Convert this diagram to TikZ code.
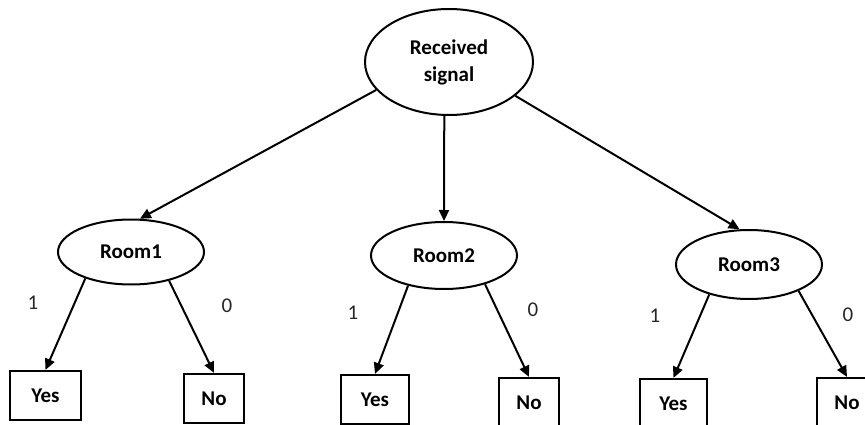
\documentclass[tikz,border=0pt]{standalone}
\usepackage{fontspec}
\setmainfont{Carlito}
\usetikzlibrary{arrows.meta}
\usetikzlibrary{shapes.geometric}

\tikzset{
    oval/.style={draw, ellipse, line width=2pt, inner sep=0pt,
        font=\fontsize{21}{27}\selectfont\bfseries, align=center},
    leaf/.style={draw, rectangle, line width=2.2pt, inner sep=0pt,
        minimum height=49pt, font=\fontsize{21}{25}\selectfont\bfseries},
    branch/.style={font=\fontsize{21}{25}\selectfont, text=black!85},
    edge/.style={line width=2pt, -{Triangle[length=11pt,width=10pt]}}
}

\begin{document}
\begin{tikzpicture}[x=1pt, y=-1pt]
    \useasboundingbox (0, 0) rectangle (865, 425);
    % root
    \node [oval, minimum width=168pt, minimum height=106pt] (sig) at (449, 62) {Received\\signal};
    % rooms
    \node [oval, minimum width=146pt, minimum height=65pt] (room1) at (131, 252) {Room1};
    \node [oval, minimum width=146pt, minimum height=67pt] (room2) at (444, 255.5) {Room2};
    \node [oval, minimum width=146pt, minimum height=69pt] (room3) at (749, 264.5) {Room3};
    \draw [edge] (sig.201) to (room1.75);
    \draw [edge] (sig.265) to (room2.north);
    \draw [edge] (sig.333) to (room3.105);
    % answers
    \node [leaf, minimum width=71pt] (yes1) at (45.5, 395.5) {Yes};
    \node [leaf, minimum width=60pt] (no1) at (214, 398.5) {No};
    \node [leaf, minimum width=68pt] (yes2) at (375, 399.5) {Yes};
    \node [leaf, minimum width=60pt] (no2) at (529, 402.5) {No};
    \node [leaf, minimum width=67pt] (yes3) at (673.5, 403.5) {Yes};
    \node [leaf, minimum width=60pt] (no3) at (847, 402.5) {No};
    \draw [edge] (room1.210) to (yes1.north);
    \draw [edge] (room1.323) to (no1.north);
    \draw [edge] (room2.220) to (yes2.north);
    \draw [edge] (room2.325) to (no2.north);
    \draw [edge] (room3.217) to (yes3.north);
    \draw [edge] (room3.332) to (no3.north);
    % branch values
    \node [branch] (one1) at (33, 303) {1};
    \node [branch] (zero1) at (227, 306) {0};
    \node [branch] (one2) at (353, 313) {1};
    \node [branch] (zero2) at (533, 310) {0};
    \node [branch] (one3) at (655, 316) {1};
    \node [branch] (zero3) at (848, 315) {0};
\end{tikzpicture}
\end{document}
